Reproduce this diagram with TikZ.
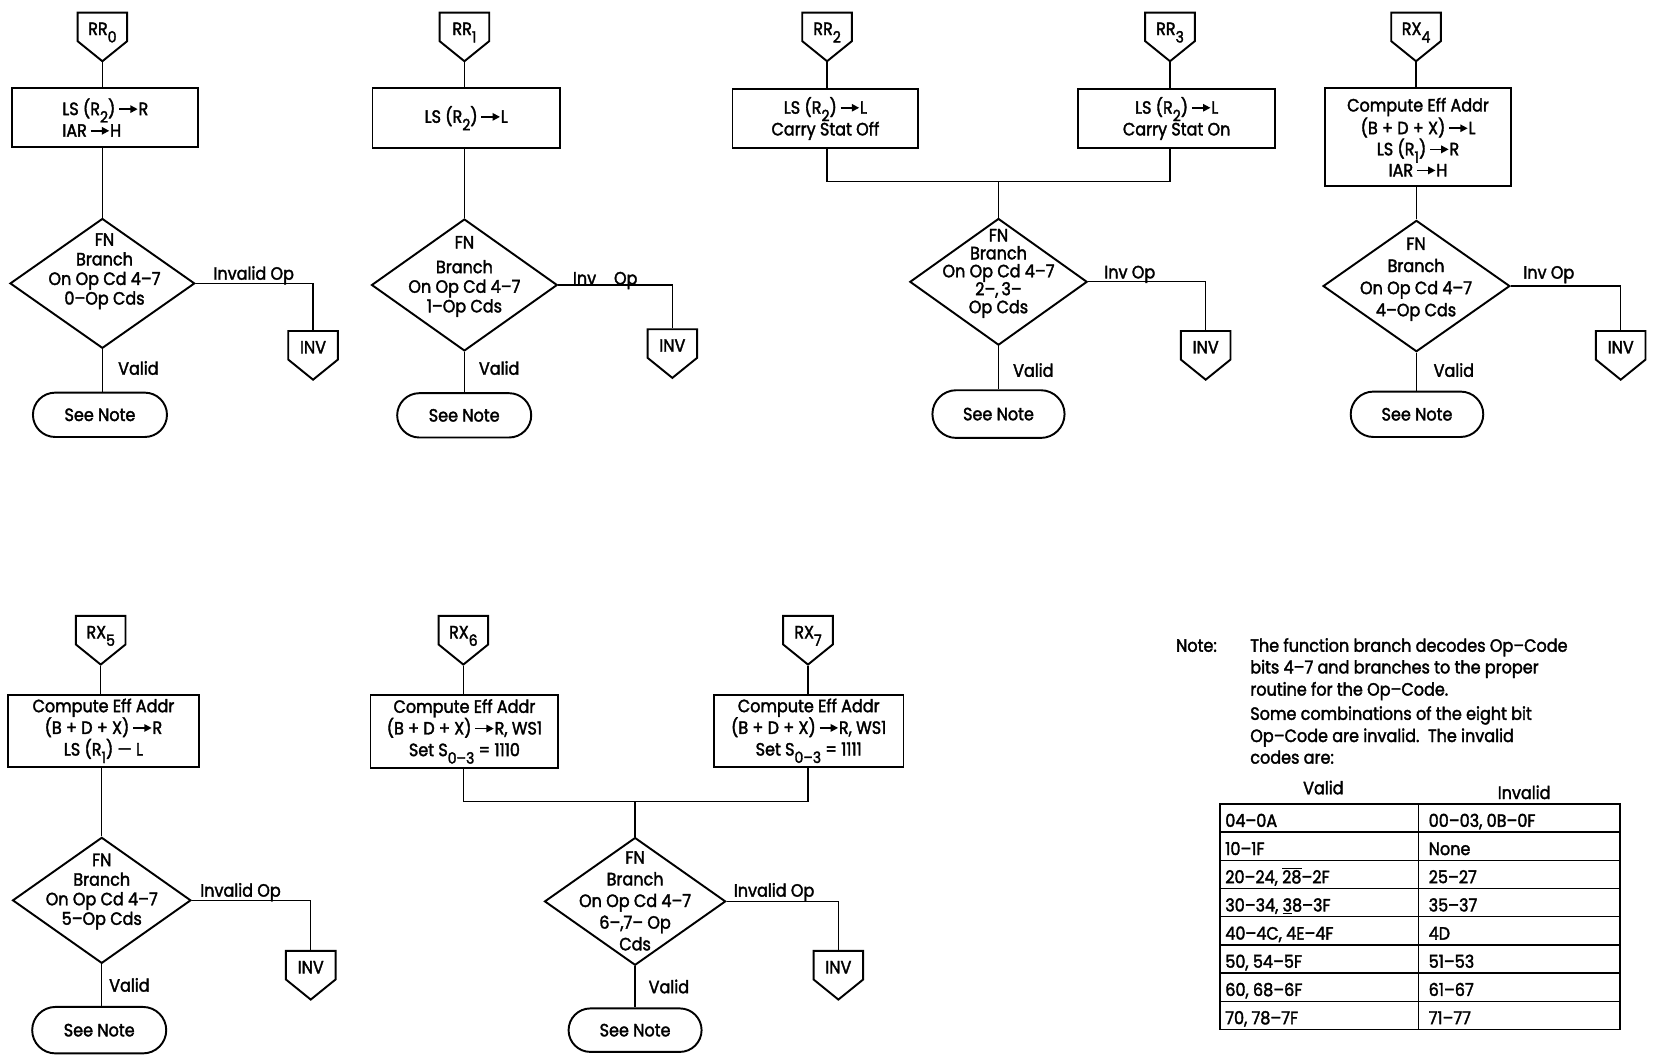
\documentclass[tikz,border=0pt]{standalone}
\usepackage{fontspec}
\setmainfont{Poppins}[FakeStretch=0.9, FakeBold=2]
\usetikzlibrary{shapes.geometric,shapes.symbols,shapes.misc,arrows.meta}

\newcommand{\diagfont}{\fontsize{12}{14.6}\selectfont}
\newcommand{\lo}[1]{\raisebox{-0.42em}{\fontsize{10.5}{10.5}\selectfont #1}}
\newcommand{\regto}{\tikz[baseline=-4pt]\draw[line width=1.1pt,-{Triangle[length=5pt,width=5pt]}] (0,0) -- (4.4mm,0);}

\tikzset{
  offpage/.style={signal, signal to=south, signal pointer angle=102, draw, line width=1.3pt,
    minimum width=11.75mm, minimum height=0pt, text height=12pt, text depth=1pt,
    inner xsep=0, inner ysep=1.1mm, font=\diagfont},
  proc/.style={draw, line width=1.3pt, inner sep=0, align=center, font=\diagfont},
  decision/.style={diamond, draw, line width=1.3pt, inner sep=0},
  dtext/.style={align=center, inner sep=0, font=\fontsize{12}{13.2}\selectfont},
  term/.style={rounded rectangle, draw, line width=1.3pt, minimum width=31.75mm,
    minimum height=10.5mm, inner sep=0, font=\diagfont},
  lbl/.style={inner sep=0, anchor=base west, font=\diagfont},
  conn/.style={line width=0.9pt},
  tbl/.style={line width=1pt}
}

\begin{document}
\begin{tikzpicture}[x=0.25mm, y=-0.25mm]
  \useasboundingbox (0,0) rectangle (1568,1000);

  % RR0
  \node[offpage, anchor=north] (c0) at (97,11) {RR\lo0};
  \node[proc, minimum width=44mm, minimum height=13.8mm, align=left] (b0) at (99.8,111.4) {LS (R\lo2)\,\regto R\\IAR\,\regto H};
  \node[decision, minimum width=43.75mm, minimum height=30.75mm] (d0) at (97,268.5) {};
  \node[dtext] (d0t) at (99,257) {FN\\Branch\\On Op Cd 4–7\\0–Op Cds};
  \node[term] (t0) at (94.7,393) {See Note};
  \node[offpage, anchor=north] (i0) at (296.6,312.7) {INV};
  \node[lbl] (n0) at (202,265) {Invalid Op};
  \node[lbl] (v0) at (111.7,355) {Valid};
  \draw[conn] (c0.south) -- (c0.south |- b0.north);
  \draw[conn] (d0.north |- b0.south) -- (d0.north);
  \draw[conn] (d0.south) -- (d0.south |- t0.north);
  \draw[conn] (d0.east) -| (i0.north);

  % RR1
  \node[offpage, anchor=north] (c1) at (440,11) {RR\lo1};
  \node[proc, minimum width=44.4mm, minimum height=14.1mm] (b1) at (441.7,112) {LS (R\lo2)\,\regto L};
  \node[decision, minimum width=44mm, minimum height=31.25mm] (d1) at (440,270) {};
  \node[dtext] (d1t) at (440,262) {FN\\[1.2mm]Branch\\On Op Cd 4–7\\1–Op Cds};
  \node[term] (t1) at (439.8,393.5) {See Note};
  \node[offpage, anchor=north] (i1) at (637,311) {INV};
  \node[lbl] (n1) at (542.6,269.5) {Inv\quad Op};
  \node[lbl] (v1) at (453.5,355) {Valid};
  \draw[conn] (c1.south) -- (c1.south |- b1.north);
  \draw[conn] (d1.north |- b1.south) -- (d1.north);
  \draw[conn] (d1.south) -- (d1.south |- t1.north);
  \draw[conn] (d1.east) -| (i1.north);

  % RR2 and RR3
  \node[offpage, anchor=north] (c2) at (783.6,11) {RR\lo2};
  \node[offpage, anchor=north] (c3) at (1108.5,11) {RR\lo3};
  \node[proc, minimum width=44mm, minimum height=14.15mm] (b2) at (782,112.3) {LS (R\lo2)\,\regto L\\Carry Stat Off};
  \node[proc, minimum width=46.6mm, minimum height=14.15mm] (b3) at (1114.8,112.3) {LS (R\lo2)\,\regto L\\Carry Stat On};
  \coordinate (j2) at (946,172);
  \node[decision, minimum width=42mm, minimum height=30mm] (d2) at (946,267) {};
  \node[dtext, font=\fontsize{12}{12.1}\selectfont] (d2t) at (946,259) {FN\\Branch\\On Op Cd 4–7\\2–,\,3–\\Op Cds};
  \node[term, minimum width=31.3mm, minimum height=11.3mm] (t2) at (946,392.3) {See Note};
  \node[offpage, anchor=north] (i2) at (1142.3,312.7) {INV};
  \node[lbl] (n2) at (1046,263.7) {Inv Op};
  \node[lbl] (v2) at (959.6,357) {Valid};
  \draw[conn] (c2.south) -- (c2.south |- b2.north);
  \draw[conn] (c3.south) -- (c3.south |- b3.north);
  \draw[conn] (c2.south |- b2.south) |- (j2) -| (c3.south |- b3.south);
  \draw[conn] (j2) -- (d2.north);
  \draw[conn] (d2.south) -- (d2.south |- t2.north);
  \draw[conn] (d2.east) -| (i2.north);

  % RX4
  \node[offpage, anchor=north] (c4) at (1341.6,11) {RX\lo4};
  \node[proc, minimum width=44.15mm, minimum height=23.1mm, font=\fontsize{12}{14.2}\selectfont] (b4) at (1343.5,129.9) {Compute Eff Addr\\(B + D + X)\,\regto L\\LS (R\lo1)\,\regto R\\IAR\,\regto H};
  \node[decision, minimum width=44.25mm, minimum height=31.1mm] (d4) at (1342,271) {};
  \node[dtext, font=\fontsize{12}{14.9}\selectfont] (d4t) at (1341.6,264.5) {FN\\Branch\\On Op Cd 4–7\\4–Op Cds};
  \node[term, minimum width=31.4mm, minimum height=10.75mm] (t4) at (1342.5,392.5) {See Note};
  \node[offpage, anchor=north] (i4) at (1535.5,312.7) {INV};
  \node[lbl] (n4) at (1443,264) {Inv Op};
  \node[lbl] (v4) at (1358,357) {Valid};
  \draw[conn] (c4.south) -- (c4.south |- b4.north);
  \draw[conn] (d4.north |- b4.south) -- (d4.north);
  \draw[conn] (d4.south) -- (d4.south |- t4.north);
  \draw[conn] (d4.east) -| (i4.north);

  % RX5
  \node[offpage, anchor=north] (c5) at (95.4,582.6) {RX\lo5};
  \node[proc, minimum width=45.25mm, minimum height=17mm] (b5) at (98,692.4) {Compute Eff Addr\\(B + D + X)\,\regto R\\LS (R\lo1) — L};
  \node[decision, minimum width=42.25mm, minimum height=29.85mm] (d5) at (96.4,853) {};
  \node[dtext] (d5t) at (96.4,844.7) {FN\\Branch\\On Op Cd 4–7\\5–Op Cds};
  \node[term, minimum width=31.75mm, minimum height=11mm] (t5) at (94,976) {See Note};
  \node[offpage, anchor=north] (i5) at (294.4,900) {INV};
  \node[lbl] (n5) at (189.5,849.5) {Invalid Op};
  \node[lbl] (v5) at (103.2,939.5) {Valid};
  \draw[conn] (c5.south) -- (c5.south |- b5.north);
  \draw[conn] (d5.north |- b5.south) -- (d5.north);
  \draw[conn] (d5.south) -- (d5.south |- t5.north);
  \draw[conn] (d5.east) -| (i5.north);

  % RX6 and RX7
  \node[offpage, anchor=north] (c6) at (439,582.6) {RX\lo6};
  \node[offpage, anchor=north] (c7) at (765.5,582.6) {RX\lo7};
  \node[proc, minimum width=44.5mm, minimum height=17.4mm] (b6) at (440,693) {Compute Eff Addr\\(B + D + X)\,\regto R, WS1\\Set S\lo{0–3} = 1110};
  \node[proc, minimum width=44.9mm, minimum height=17mm] (b7) at (766.2,692.4) {Compute Eff Addr\\(B + D + X)\,\regto R, WS1\\Set S\lo{0–3} = 1111};
  \coordinate (j6) at (601.7,759.5);
  \node[decision, minimum width=42.9mm, minimum height=30.25mm] (d6) at (601.7,854) {};
  \node[dtext, font=\fontsize{12}{14.6}\selectfont] (d6t) at (601.7,853.5) {FN\\Branch\\On Op Cd 4–7\\6–,7– Op\\Cds};
  \node[term, minimum width=31.5mm, minimum height=10.3mm] (t6) at (601.7,976) {See Note};
  \node[offpage, anchor=north] (i6) at (794.3,900) {INV};
  \node[lbl] (n6) at (695,849.5) {Invalid Op};
  \node[lbl] (v6) at (614.3,941) {Valid};
  \draw[conn] (c6.south) -- (c6.south |- b6.north);
  \draw[conn] (c7.south) -- (c7.south |- b7.north);
  \draw[conn] (c6.south |- b6.south) |- (j6) -| (c7.south |- b7.south);
  \draw[conn] (j6) -- (d6.north);
  \draw[conn] (d6.south) -- (d6.south |- t6.north);
  \draw[conn] (d6.east) -| (i6.north);

  % note
  \node[lbl] (note) at (1114,617.5) {Note:};
  \foreach \y/\txt [count=\k] in {617.5/The function branch decodes Op–Code,
      638/bits 4–7 and branches to the proper, 659/routine for the Op–Code.,
      682/Some combinations of the eight bit, 703/Op–Code are invalid.\ \ The invalid,
      723.5/codes are:}
    \node[lbl] (note\k) at (1184.3,\y) {\txt};

  % table of codes
  \node[lbl, anchor=base] (hv) at (1253.8,752.5) {Valid};
  \node[lbl, anchor=base] (hi) at (1444,757) {Invalid};
  \draw[tbl] (1156,761.7) rectangle (1535,975.3);
  \draw[tbl] (1343.8,761.7) -- (1343.8,975.3);
  \foreach \k in {1,...,7}
    \draw[tbl] (1156,761.7+26.7*\k) -- (1535,761.7+26.7*\k);
  \foreach \a/\b [count=\k] in {04–0A/{00–03, 0B–0F}, 10–1F/None,
      {20–24, $\overline{\mbox{28}}$–2F}/25–27, {30–34, \underline{3}8–3F}/35–37,
      {40–4C, 4E–4F}/4D, {50, 54–5F}/51–53, {60, 68–6F}/61–67, {70, 78–7F}/71–77} {
    \node[lbl] (va\k) at (1160.6,756.7+26.7*\k) {\a};
    \node[lbl] (in\k) at (1353.3,756.7+26.7*\k) {\b};
  }
\end{tikzpicture}
\end{document}
